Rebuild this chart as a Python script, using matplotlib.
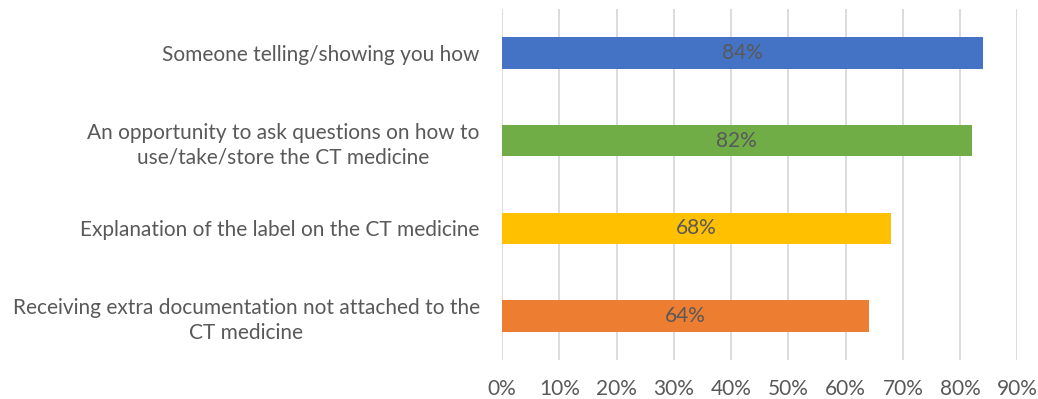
import matplotlib
matplotlib.use("Agg")
import matplotlib.pyplot as plt
from matplotlib.ticker import FuncFormatter

categories = [
    "Someone telling/showing you how",
    "An opportunity to ask questions on how to\nuse/take/store the CT medicine",
    "Explanation of the label on the CT medicine",
    "Receiving extra documentation not attached to the\nCT medicine",
]
values = [84, 82, 68, 64]
colors = ["#4472C4", "#70AD47", "#FFC000", "#ED7D31"]
x_ticks = [0, 10, 20, 30, 40, 50, 60, 70, 80, 90]

text_color = "#595959"
plt.rcParams["font.family"] = ["Lato", "DejaVu Sans"]
fs = 15

fig = plt.figure(figsize=(10.38, 3.99), dpi=100)
ax = fig.add_axes([0.4836, 0.0977, 0.4966, 0.8798])

pos = list(range(len(categories)))
bars = ax.barh(pos, values, height=0.36, color=colors, zorder=3)
ax.set_ylim(len(categories) - 0.5, -0.5)
ax.set_xlim(0, 90)

for b, v in zip(bars, values):
    ax.text(b.get_x() + b.get_width() / 2, b.get_y() + b.get_height() / 2,
            f"{v}%", ha="center", va="center", fontsize=fs, color=text_color, zorder=4)

ax.set_yticks(pos)
ax.set_yticklabels(categories, fontsize=fs, color=text_color, ha="right",
                   multialignment="center", linespacing=1.3)
ax.set_xticks(x_ticks)
ax.xaxis.set_major_formatter(FuncFormatter(lambda x, _: f"{x:.0f}%"))
ax.tick_params(axis="x", length=0, pad=14, labelsize=fs, labelcolor=text_color)
ax.tick_params(axis="y", length=0, pad=16)

ax.grid(axis="x", color="#D9D9D9", linewidth=1.3, zorder=0)
for s in ax.spines.values():
    s.set_visible(False)

fig.savefig("out.png", dpi=100)
